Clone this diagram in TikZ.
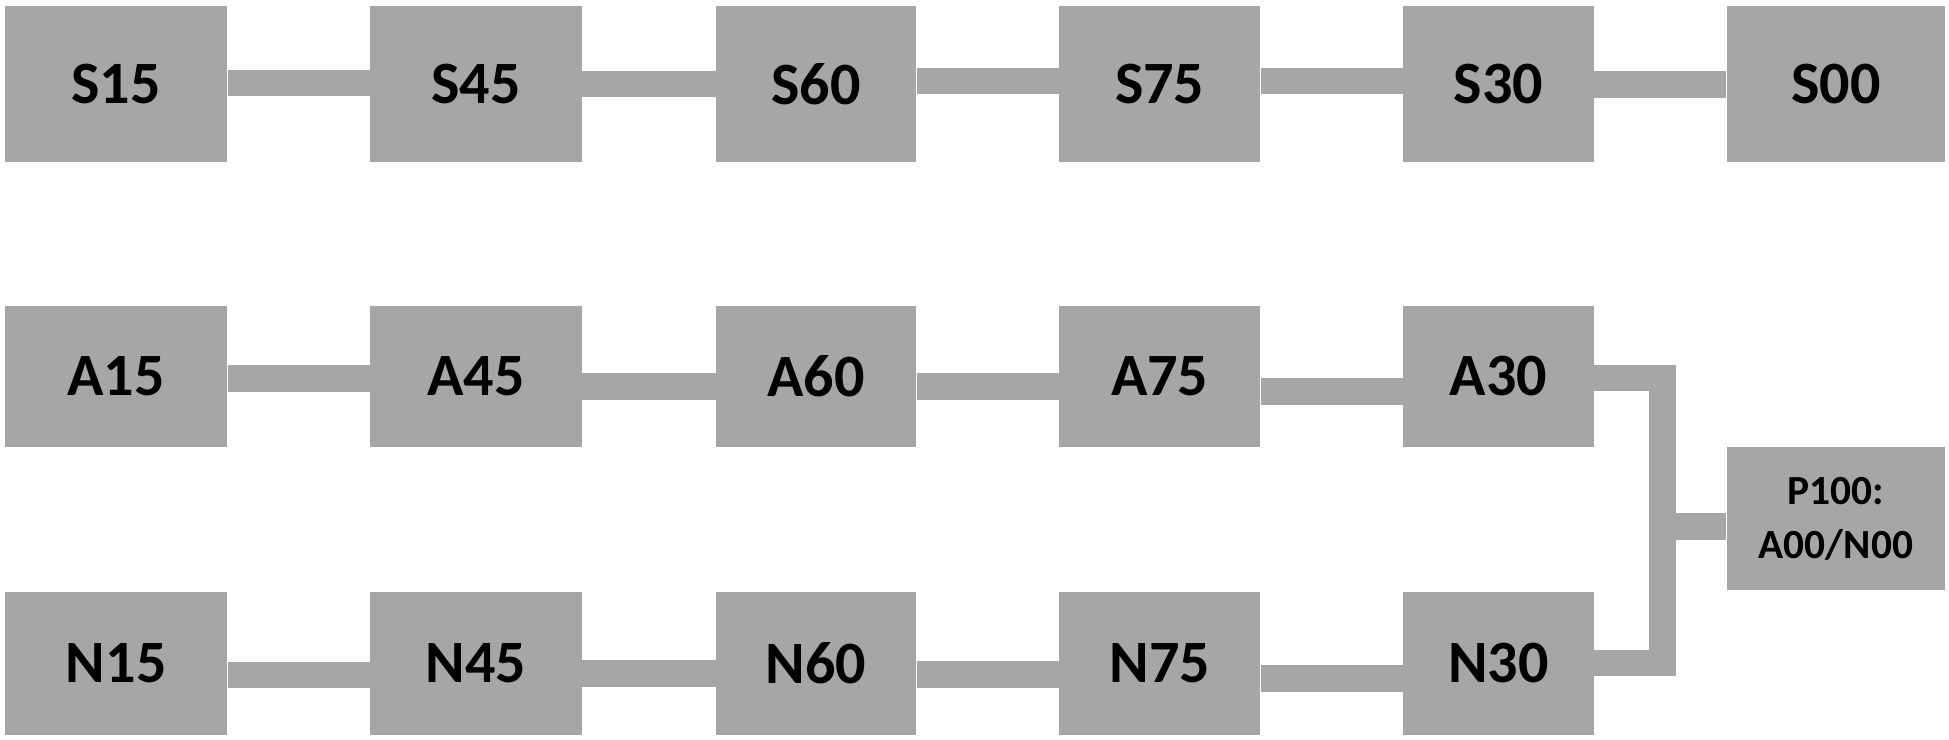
\documentclass[tikz,border=0pt]{standalone}
\usepackage{fontspec}
\setmainfont{Carlito}
\usetikzlibrary{calc}
\definecolor{boxgray}{RGB}{166,166,166}
\tikzset{
  box/.style={fill=boxgray, draw=none, inner sep=0pt, text=black,
    font=\bfseries\fontsize{29}{32}\selectfont},
  link/.style={draw=boxgray, line width=12.8pt, line join=miter}
}
\begin{document}
\begin{tikzpicture}[x=0.6pt,y=-0.6pt]
\useasboundingbox (0,0) rectangle (1568,595);
% row S
\node[box, minimum width=107.4pt, minimum height=75.6pt] (S15) at (93.5,67.5) {S15};
\node[box, minimum width=102pt, minimum height=75.6pt] (S45) at (383,67.5) {S45};
\node[box, minimum width=96.6pt, minimum height=75.6pt] (S60) at (656.5,67.5) {S60};
\node[box, minimum width=97.2pt, minimum height=75.6pt] (S75) at (933,67.5) {S75};
\node[box, minimum width=91.8pt, minimum height=75.6pt] (S30) at (1205.5,67.5) {S30};
\node[box, minimum width=105.6pt, minimum height=75.6pt] (S00) at (1477,67.5) {S00};
% row A
\node[box, minimum width=107.4pt, minimum height=68.1pt] (A15) at (93.5,302.75) {A15};
\node[box, minimum width=102pt, minimum height=68.1pt] (A45) at (383,302.75) {A45};
\node[box, minimum width=96.6pt, minimum height=68.1pt] (A60) at (656.5,302.75) {A60};
\node[box, minimum width=97.2pt, minimum height=68.1pt] (A75) at (933,302.75) {A75};
\node[box, minimum width=91.8pt, minimum height=68.1pt] (A30) at (1205.5,302.75) {A30};
% row N
\node[box, minimum width=107.4pt, minimum height=69pt] (N15) at (93.5,533.5) {N15};
\node[box, minimum width=102pt, minimum height=69pt] (N45) at (383,533.5) {N45};
\node[box, minimum width=96.6pt, minimum height=69pt] (N60) at (656.5,533.5) {N60};
\node[box, minimum width=97.2pt, minimum height=69pt] (N75) at (933,533.5) {N75};
\node[box, minimum width=91.8pt, minimum height=69pt] (N30) at (1205.5,533.5) {N30};
% P100
\node[box, minimum width=105.6pt, minimum height=69pt, align=center,
  font=\bfseries\fontsize{20}{26.4}\selectfont] (P100) at (1477,417.5) {P100:\\A00/N00};
% row S links
\draw[link] ($(S15.east)+(0,-0.7)$) -- ($(S45.west)+(0,-0.7)$);
\draw[link] (S45.east) -- (S60.west);
\draw[link] ($(S60.east)+(0,-2.5)$) -- ($(S75.west)+(0,-2.5)$);
\draw[link] ($(S75.east)+(0,-2.5)$) -- ($(S30.west)+(0,-2.5)$);
\draw[link] ($(S30.east)+(0,0.3)$) -- ($(S00.west)+(0,0.3)$);
% row A links
\draw[link] ($(A15.east)+(0,1.75)$) -- ($(A45.west)+(0,1.75)$);
\draw[link] ($(A45.east)+(0,8.25)$) -- ($(A60.west)+(0,8.25)$);
\draw[link] ($(A60.east)+(0,8.25)$) -- ($(A75.west)+(0,8.25)$);
\draw[link] ($(A75.east)+(0,12.25)$) -- ($(A30.west)+(0,12.25)$);
% row N links
\draw[link] ($(N15.east)+(0,9.5)$) -- ($(N45.west)+(0,9.5)$);
\draw[link] ($(N45.east)+(0,8.5)$) -- ($(N60.west)+(0,8.5)$);
\draw[link] ($(N60.east)+(0,9)$) -- ($(N75.west)+(0,9)$);
\draw[link] ($(N75.east)+(0,12.5)$) -- ($(N30.west)+(0,12.5)$);
% merge to P100
\coordinate (bus) at (1337.5,423.5);
\draw[link] ($(A30.east)+(0,1.25)$) -| (bus) |- (N30.east);
\draw[link] (bus) -- (bus -| P100.west);
\end{tikzpicture}
\end{document}
